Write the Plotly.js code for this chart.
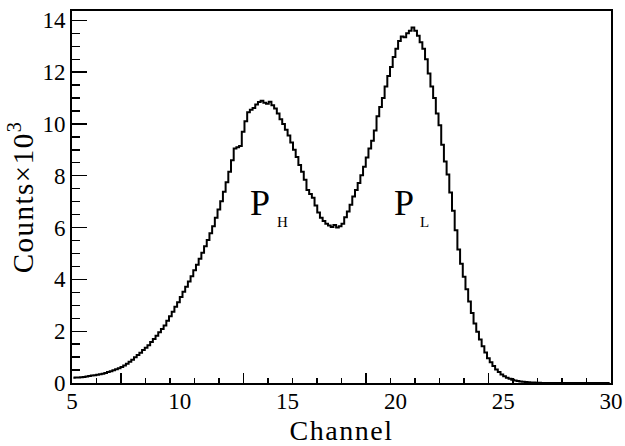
<!DOCTYPE html>
<html>
<head>
<meta charset="utf-8">
<script src="https://cdn.plot.ly/plotly-3.0.1.min.js"></script>
<style>html,body{margin:0;padding:0;background:#fff;}#chart{width:625px;height:446px;}</style>
</head>
<body>
<div id="chart"></div>
<script>
// Histogram: first bin centre, bin width (channel units)
const binStart = 5.0625;
const binWidth = 0.125;
// Counts (x10^3) per bin, channels 5 -> 30
const counts = [
  0.20,0.21,0.21,0.22,0.23,0.25,0.27,0.29,
  0.30,0.32,0.34,0.36,0.39,0.42,0.45,0.49,
  0.53,0.57,0.62,0.68,0.74,0.82,0.90,0.99,
  1.08,1.17,1.27,1.36,1.46,1.58,1.70,1.82,
  1.96,2.08,2.22,2.40,2.58,2.75,2.94,3.12,
  3.32,3.52,3.72,3.92,4.12,4.35,4.56,4.80,
  5.03,5.28,5.52,5.78,6.05,6.38,6.70,7.02,
  7.38,7.75,8.15,8.60,9.05,9.10,9.15,9.70,
  10.10,10.45,10.55,10.62,10.75,10.85,10.90,10.82,
  10.78,10.86,10.72,10.60,10.40,10.18,10.00,9.78,
  9.55,9.28,9.00,8.72,8.42,8.15,7.85,7.45,
  7.30,7.15,6.85,6.58,6.38,6.25,6.15,6.08,
  6.02,6.10,6.00,6.05,6.15,6.40,6.62,6.88,
  7.20,7.45,7.72,8.02,8.35,8.70,9.05,9.35,
  9.75,10.30,10.65,11.00,11.45,11.85,12.20,12.58,
  12.90,13.20,13.38,13.35,13.50,13.60,13.72,13.60,
  13.40,13.15,12.90,12.50,11.95,11.45,11.00,10.40,
  9.95,9.20,8.55,8.05,7.35,6.65,5.90,5.15,
  4.60,4.10,3.62,3.15,2.70,2.30,1.98,1.68,
  1.42,1.18,0.96,0.80,0.66,0.52,0.42,0.33,
  0.26,0.20,0.16,0.13,0.10,0.08,0.06,0.05,
  0.04,0.03,0.02,0.015,0.01,0.005,0,0,
  0,0,0,0,0,0,0,0,
  0,0,0,0,0,0,0,0,
  0,0,0,0,0,0,0,0
];
const xTickVals = [5, 10, 15, 20, 25, 30];
const xTickText = ['5', '10', '15', '20', '25', '30'];
const yTickVals = [0, 2, 4, 6, 8, 10, 12, 14];
const yTickText = ['0', '2', '4', '6', '8', '10', '12', '14'];
const peakLabels = [
  {main: 'P', sub: 'H', x: 13.70, y: 6.95, subX: 14.78, subY: 6.20},
  {main: 'P', sub: 'L', x: 20.42, y: 6.95, subX: 21.34, subY: 6.20}
];

const FONT = 'Liberation Serif';

const trace = {
  type: 'scatter',
  mode: 'lines',
  x0: binStart,
  dx: binWidth,
  y: counts,
  line: {color: '#000', width: 2, shape: 'hvh'},
  hoverinfo: 'skip',
  showlegend: false
};
// empty helper trace so the tick-only overlay axis is drawn
const tickTrace = {
  type: 'scatter', mode: 'markers', x: [null], y: [null],
  xaxis: 'x2', yaxis: 'y', hoverinfo: 'skip', showlegend: false,
  marker: {opacity: 0}
};

const annotations = [];
peakLabels.forEach(p => {
  annotations.push({x: p.x, y: p.y, xref: 'x', yref: 'y', text: p.main, showarrow: false,
    font: {family: FONT, size: 36, color: '#000'}, xanchor: 'center', yanchor: 'middle'});
  annotations.push({x: p.subX, y: p.subY, xref: 'x', yref: 'y', text: p.sub, showarrow: false,
    font: {family: FONT, size: 15, color: '#000'}, xanchor: 'center', yanchor: 'middle'});
});

const layout = {
  width: 625, height: 446,
  margin: {l: 72, r: 14, t: 11, b: 63, pad: 0},
  paper_bgcolor: '#fff', plot_bgcolor: '#fff',
  font: {family: FONT, color: '#000'},
  showlegend: false,
  xaxis: {
    range: [5, 30], showgrid: false, zeroline: false,
    showline: true, linecolor: '#000', linewidth: 1.8, mirror: true,
    ticks: '', tickmode: 'array', tickvals: xTickVals, ticktext: xTickText,
    tickfont: {family: FONT, size: 23, color: '#000'},
    ticklabelstandoff: -3,
    title: {text: '<span style="letter-spacing:1.5px">Channel</span>', font: {family: FONT, size: 28, color: '#000'}, standoff: 8}
  },
  xaxis2: {
    overlaying: 'x', anchor: 'y', side: 'bottom', range: [0, 22],
    showgrid: false, zeroline: false, showline: false, showticklabels: false,
    ticks: 'inside', tickmode: 'linear', tick0: 2, dtick: 5, ticklen: 10, tickwidth: 1.3, tickcolor: '#000',
    minor: {ticks: 'inside', tick0: 0, dtick: 1, ticklen: 5, tickwidth: 1.3, tickcolor: '#000', showgrid: false}
  },
  yaxis: {
    range: [0, 14.36], showgrid: false, zeroline: false,
    showline: true, linecolor: '#000', linewidth: 1.8, mirror: true,
    ticks: 'inside', tickmode: 'linear', tick0: 0, dtick: 2,
    ticklen: 15, tickwidth: 1.3, tickcolor: '#000',
    minor: {ticks: 'inside', tick0: 0, dtick: 0.5, ticklen: 8, tickwidth: 1.3, tickcolor: '#000', showgrid: false},
    tickfont: {family: FONT, size: 23, color: '#000'},
    ticklabelstandoff: 0,
    title: {text: '<span style="letter-spacing:1.5px">Counts×10<sup>3</sup></span>', font: {family: FONT, size: 29, color: '#000'}, standoff: 0}
  },
  annotations: annotations
};

Plotly.newPlot('chart', [trace, tickTrace], layout, {displayModeBar: false, staticPlot: true});
</script>
</body>
</html>
